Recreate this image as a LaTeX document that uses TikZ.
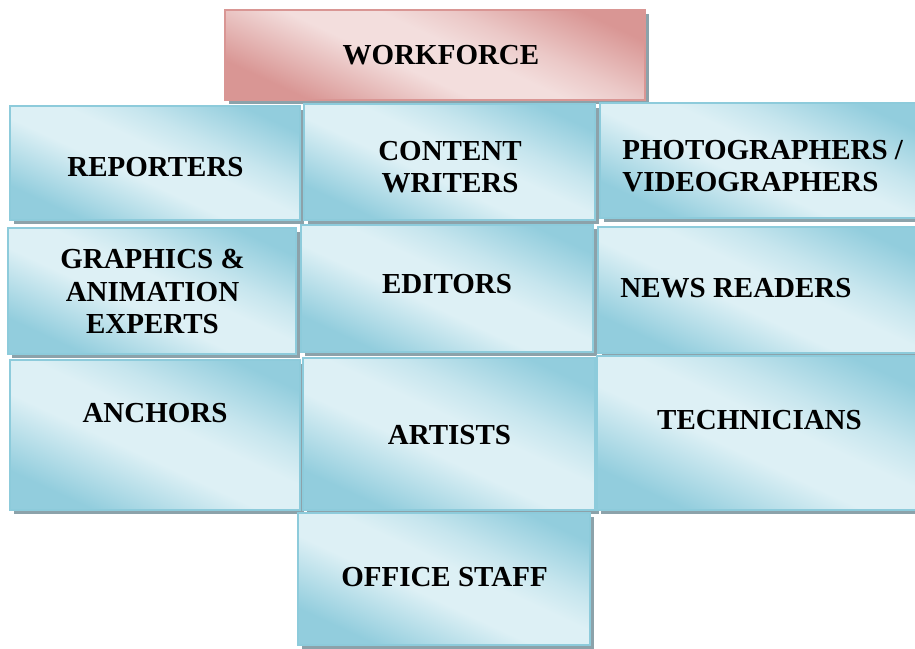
\documentclass[tikz,border=0pt]{standalone}
\usepackage{fontspec}
\setmainfont{Liberation Serif}
\usetikzlibrary{shadows}
\definecolor{bluedk}{RGB}{146,205,221}
\definecolor{bluelt}{RGB}{221,240,245}
\definecolor{blueln}{RGB}{141,203,219}
\definecolor{pinkdk}{RGB}{217,150,148}
\definecolor{pinklt}{RGB}{243,222,221}
\definecolor{pinkln}{RGB}{217,150,148}
\definecolor{shadegray}{RGB}{140,162,170}
\pgfdeclarehorizontalshading{blueshine}{100bp}{color(0bp)=(bluedk); color(26bp)=(bluedk); color(44bp)=(bluelt); color(54bp)=(bluelt); color(62bp)=(bluelt!70!bluedk); color(76bp)=(bluedk); color(100bp)=(bluedk)}
\pgfdeclarehorizontalshading{pinkshine}{100bp}{color(0bp)=(pinkdk); color(26bp)=(pinkdk); color(44bp)=(pinklt); color(54bp)=(pinklt); color(62bp)=(pinklt!70!pinkdk); color(76bp)=(pinkdk); color(100bp)=(pinkdk)}

\begin{document}
\begin{tikzpicture}[
    tile/.style={draw=blueln, line width=0.8pt, shading=blueshine, shading angle=65,
      drop shadow={shadow xshift=2pt, shadow yshift=-2pt, fill=shadegray, opacity=1}},
    head/.style={draw=pinkln, line width=0.8pt, shading=pinkshine, shading angle=65,
      drop shadow={shadow xshift=2pt, shadow yshift=-2pt, fill=shadegray, opacity=1}},
    lbl/.style={font=\fontsize{16.5}{18.5}\selectfont\bfseries, align=center, inner sep=0pt}]
  \useasboundingbox (0,0) rectangle (18.30,-12.96);

  % head
  \node (work) at (8.70,-1.10) [head, minimum width=8.40cm, minimum height=1.80cm] {};
  \node (workT) at (8.82,-1.10) [lbl] {WORKFORCE};

  % row 1
  \node (rep) at (3.10,-3.26) [tile, minimum width=5.80cm, minimum height=2.28cm] {};
  \node (con) at (8.99,-3.24) [tile, minimum width=5.82cm, minimum height=2.32cm] {};
  \node (pho) at (15.20,-3.21) [tile, minimum width=6.40cm, minimum height=2.30cm] {};
  \node (repT) at (3.11,-3.34) [lbl] {REPORTERS};
  \node (conT) at (9.00,-3.34) [lbl] {CONTENT\\WRITERS};
  \node (phoT) at (12.44,-3.32) [lbl, anchor=west, align=left] {PHOTOGRAPHERS /\\VIDEOGRAPHERS};

  % row 2
  \node (gra) at (3.04,-5.82) [tile, minimum width=5.76cm, minimum height=2.52cm] {};
  \node (edi) at (8.94,-5.77) [tile, minimum width=5.84cm, minimum height=2.54cm] {};
  \node (new) at (15.18,-5.80) [tile, minimum width=6.44cm, minimum height=2.52cm] {};
  \node (graT) at (3.05,-5.83) [lbl] {GRAPHICS \&\\ANIMATION\\EXPERTS};
  \node (ediT) at (8.94,-5.69) [lbl] {EDITORS};
  \node (newT) at (12.40,-5.76) [lbl, anchor=west] {NEWS READERS};

  % row 3
  \node (anc) at (3.10,-8.70) [tile, minimum width=5.80cm, minimum height=3.00cm] {};
  \node (art) at (8.98,-8.68) [tile, minimum width=5.84cm, minimum height=3.04cm] {};
  \node (tec) at (15.17,-8.66) [tile, minimum width=6.46cm, minimum height=3.08cm] {};
  \node (ancT) at (3.10,-8.26) [lbl] {ANCHORS};
  \node (artT) at (8.99,-8.71) [lbl] {ARTISTS};
  \node (tecT) at (15.19,-8.40) [lbl] {TECHNICIANS};

  % last one
  \node (off) at (8.88,-11.58) [tile, minimum width=5.84cm, minimum height=2.64cm] {};
  \node (offT) at (8.89,-11.54) [lbl] {OFFICE STAFF};
\end{tikzpicture}
\end{document}
